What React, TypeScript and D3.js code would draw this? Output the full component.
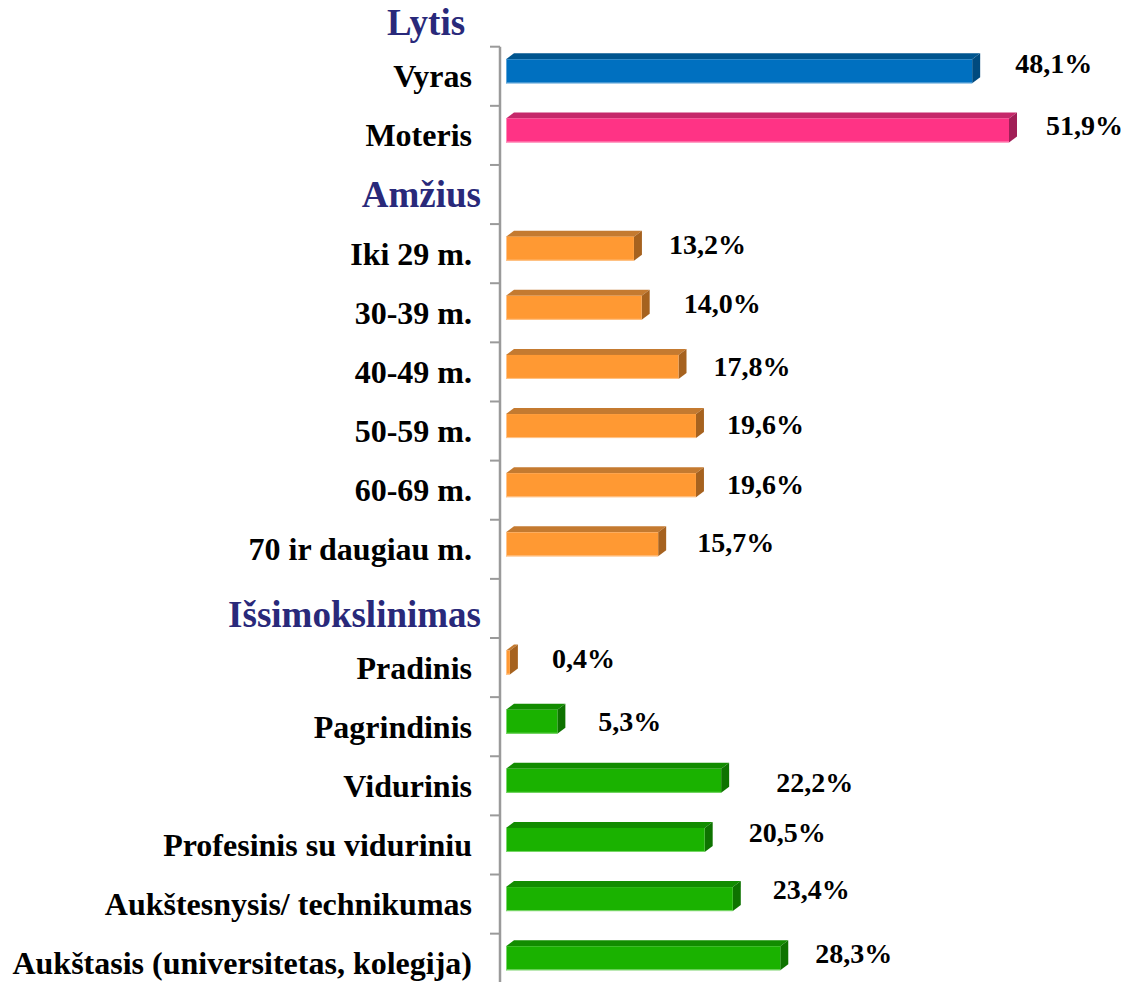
import React from "react";
import * as d3 from "d3";

// ---- data ----
const groupTitles = ["Lytis", "Amžius", "Išsimokslinimas"];
const categories = [
  "Vyras",
  "Moteris",
  "Iki 29 m.",
  "30-39 m.",
  "40-49 m.",
  "50-59 m.",
  "60-69 m.",
  "70 ir daugiau m.",
  "Pradinis",
  "Pagrindinis",
  "Vidurinis",
  "Profesinis su viduriniu",
  "Aukštesnysis/ technikumas",
  "Aukštasis (universitetas, kolegija)",
];
const values = [48.1, 51.9, 13.2, 14.0, 17.8, 19.6, 19.6, 15.7, 0.4, 5.3, 22.2, 20.5, 23.4, 28.3];
const groupOf = [0, 0, 1, 1, 1, 1, 1, 1, 2, 2, 2, 2, 2, 2];
const valueLabels = ["48,1%", "51,9%", "13,2%", "14,0%", "17,8%", "19,6%", "19,6%", "15,7%", "0,4%", "5,3%", "22,2%", "20,5%", "23,4%", "28,3%"];

// ---- layout / style (not data) ----
const W = 1125;
const H = 982;
const AXIS_X = 500;
const BAR_X0 = 506;
const TOP = 46.7;
const SLOT = 59.13;
const labelDx = [43, 37, 35, 42, 35, 31, 31, 39, 42, 41, 55, 44, 40, 35];
const labelDy = [-3, 0, 0, 0, 4, 3, 4, 3, 0, 4, 6, -3, -5, 0];
const FONT = "'Liberation Serif', 'Times New Roman', serif";
const NAVY = "#29297A";

type Shade = { front: string; top: string; side: string; edge: string };
const shades: Record<string, Shade> = {
  blue: { front: "#0070C0", top: "#00558F", side: "#004A7E", edge: "#5FA6DA" },
  pink: { front: "#FF3385", top: "#C5286A", side: "#A11F57", edge: "#FF8AB8" },
  orange: { front: "#FF9933", top: "#C47A30", side: "#A6621F", edge: "#FFC48A" },
  green: { front: "#1AB200", top: "#128C00", side: "#0E7300", edge: "#7BD86B" },
};
function shadeFor(i: number): Shade {
  const name = categories[i];
  if (name === "Vyras") return shades.blue;
  if (name === "Moteris") return shades.pink;
  if (groupOf[i] === 1 || name === "Pradinis") return shades.orange;
  return shades.green;
}

// rows on the category axis (group headers occupy their own slot, except the first)
const rows: { key: string; kind: "cat" | "head"; idx: number }[] = [];
categories.forEach((c, i) => {
  if (i > 0 && groupOf[i] !== groupOf[i - 1]) {
    rows.push({ key: "h" + groupOf[i], kind: "head", idx: groupOf[i] });
  }
  rows.push({ key: "c" + i, kind: "cat", idx: i });
});

export default function App() {
  const y = d3
    .scaleBand<string>()
    .domain(rows.map((r) => r.key))
    .range([TOP, TOP + SLOT * rows.length])
    .paddingInner(0)
    .paddingOuter(0);
  const x = d3.scaleLinear().domain([0, 51.9]).range([BAR_X0, 1009]);

  const dx = 8;
  const dy = 6;

  const ticks = d3.range(rows.length + 1).map((k) => TOP + k * y.step());

  return (
    <svg
      width={W}
      height={H}
      style={{ position: "absolute", left: 0, top: 0, background: "#fff" }}
      fontFamily={FONT}
      fontWeight="bold"
    >
      {/* first group title */}
      <text x={426} y={35} textAnchor="middle" fontSize={37} fill={NAVY}>
        {groupTitles[0]}
      </text>

      {/* axis */}
      <line x1={AXIS_X} x2={AXIS_X} y1={TOP} y2={TOP + SLOT * rows.length} stroke="#9A9A9A" strokeWidth={2.5} />
      {ticks.map((t, k) => (
        <line key={k} x1={490} x2={AXIS_X} y1={t} y2={t} stroke="#9A9A9A" strokeWidth={2} />
      ))}

      {rows.map((r) => {
        const c = (y(r.key) as number) + y.bandwidth() / 2;
        if (r.kind === "head") {
          const nud = r.idx === 2 ? 7 : 0;
          return (
            <text key={r.key} x={481} y={c + 12 + nud} textAnchor="end" fontSize={37} fill={NAVY}>
              {groupTitles[r.idx]}
            </text>
          );
        }
        const i = r.idx;
        const s = shadeFor(i);
        const x0 = x(0);
        const x1 = x(values[i]);
        const yt = c - 17;
        const yb = c + 7;
        const topPts = [
          [x0, yt],
          [x0 + dx, yt - dy],
          [x1 + dx, yt - dy],
          [x1, yt],
        ];
        const sidePts = [
          [x1, yt],
          [x1 + dx, yt - dy],
          [x1 + dx, yb - dy],
          [x1, yb],
        ];
        const pts = (p: number[][]) => p.map((q) => q.join(",")).join(" ");
        return (
          <g key={r.key}>
            <text x={472} y={c + 11} textAnchor="end" fontSize={32} fill="#000">
              {categories[i]}
            </text>
            <polygon points={pts(topPts)} fill={s.top} />
            <polygon points={pts(sidePts)} fill={s.side} />
            <rect x={x0} y={yt} width={x1 - x0} height={yb - yt} fill={s.front} />
            <line x1={x0 + 0.5} x2={x0 + 0.5} y1={yt} y2={yb} stroke={s.edge} strokeWidth={1} />
            <line x1={x0} x2={x1} y1={yb - 0.5} y2={yb - 0.5} stroke={s.edge} strokeWidth={1} />
            <text x={x1 + labelDx[i]} y={c + labelDy[i]} fontSize={28} fill="#000">
              {valueLabels[i]}
            </text>
          </g>
        );
      })}
    </svg>
  );
}
